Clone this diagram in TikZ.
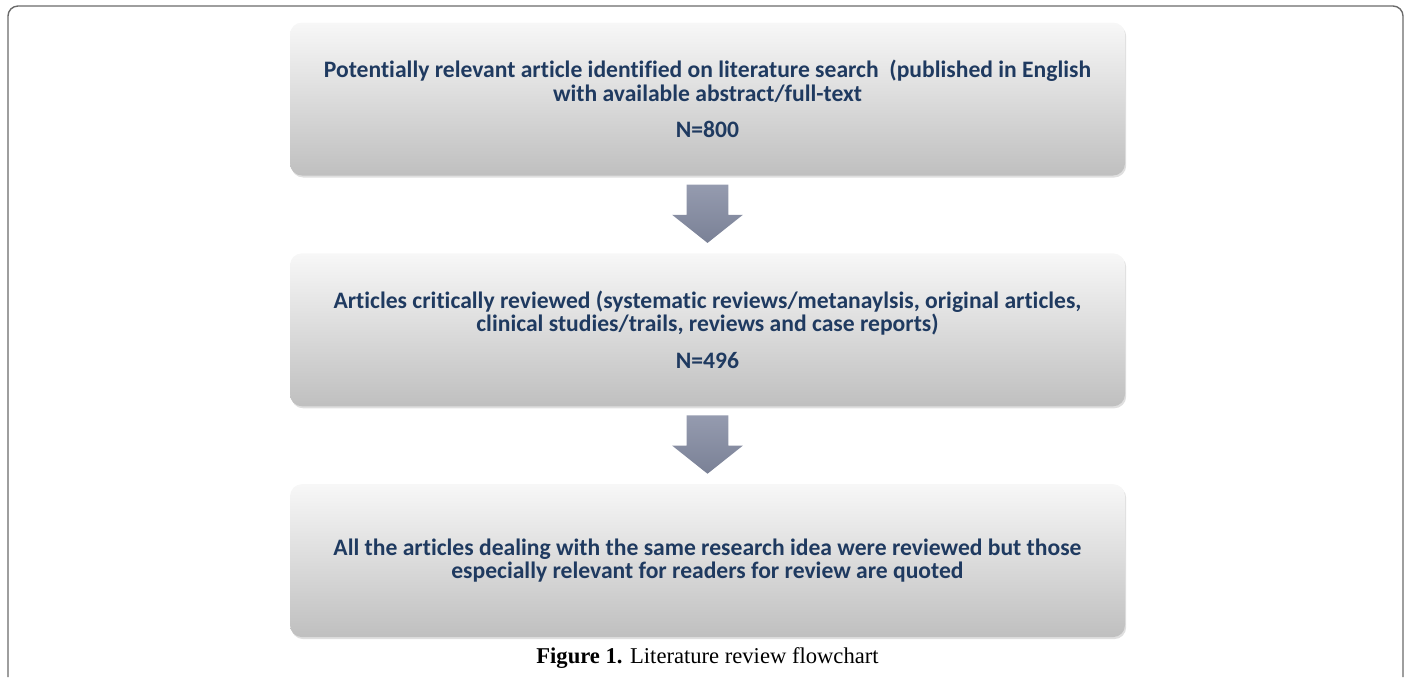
\documentclass[tikz,border=0pt]{standalone}
\usepackage{fontspec}
\setmainfont{Liberation Serif}
\newfontfamily\boxfont[Ligatures=NoCommon]{Carlito}
\usetikzlibrary{positioning,shapes.arrows,shadows}

\definecolor{boxtext}{HTML}{1F3A60}
\definecolor{frameline}{HTML}{6A6A6A}
\definecolor{arrtop}{HTML}{959BAF}
\definecolor{arrbot}{HTML}{7A8196}

\begin{document}
\begin{tikzpicture}[x=0.5pt, y=-0.5pt,
    stage/.style = {rounded corners=6pt, minimum width=417.5pt, minimum height=76.5pt,
        align=center, text=boxtext, font=\boxfont\bfseries\fontsize{11.8}{11.6}\selectfont,
        top color=white!97!black, bottom color=black!25,
        drop shadow={shadow xshift=0.6pt, shadow yshift=-1pt, opacity=0.25}},
    downarrow/.style = {single arrow, shape border rotate=270, minimum height=27.5pt,
        single arrow head extend=7.25pt, single arrow tip angle=103,
        inner sep=10.25pt, yshift=4.5pt, top color=arrtop, bottom color=arrbot}]

  \useasboundingbox (0,0) rectangle (1406,677);

  % Draw outer frame
  \draw[frameline, line width=0.7pt, rounded corners=5pt] (8,677) -- (8,6) -- (1403,6) -- (1403,677);

  % Stages of the review
  \node[stage] (search) at (707.5,99) {Potentially relevant article identified on literature search\ \ (published in English\\
      with available abstract/full-text\\[6.5pt] N=800};
  \node[stage, below=38.5pt of search] (reviewed) {Articles critically reviewed (systematic reviews/metanaylsis, original articles,\\
      clinical studies/trails, reviews and case reports)\\[6.5pt] N=496};
  \node[stage, below=38.5pt of reviewed] (quoted) {All the articles dealing with the same research idea were reviewed but those\\
      especially relevant for readers for review are quoted};

  % Draw block arrows between stages
  \path (search.south) -- (reviewed.north) node[midway, downarrow] (arrA) {};
  \path (reviewed.south) -- (quoted.north) node[midway, downarrow] (arrB) {};

  % Caption
  \node[font=\fontsize{11.3}{13}\selectfont] (caption) at (707.5,658) {\textbf{Figure 1.} Literature review flowchart};
\end{tikzpicture}
\end{document}
